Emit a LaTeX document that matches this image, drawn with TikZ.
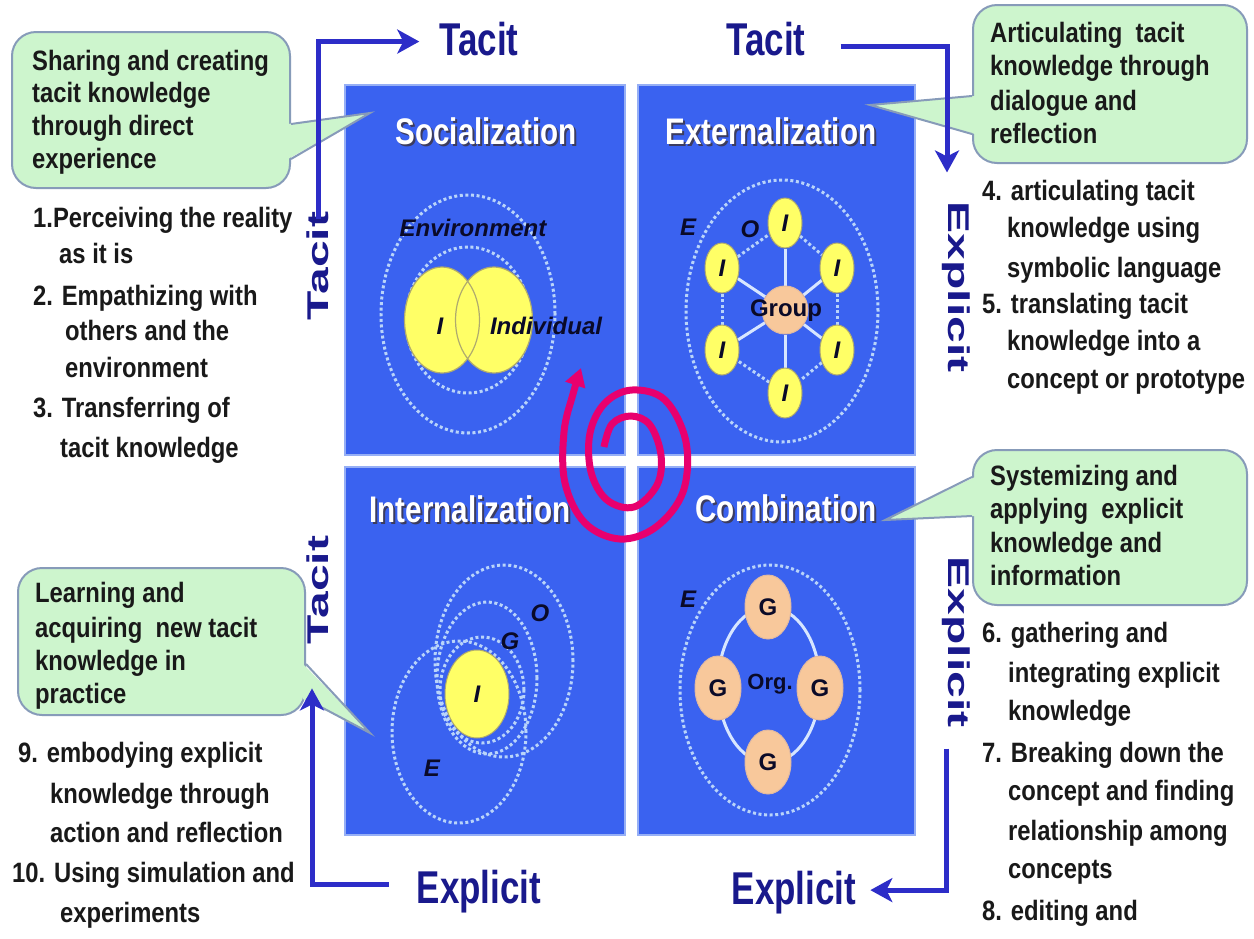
\documentclass[tikz,border=0pt]{standalone}
\usepackage{fontspec}
\setmainfont{Liberation Sans}
\newfontfamily\fbody{Liberation Sans}[FakeStretch=0.85]
\newfontfamily\ftitle{Liberation Sans}[FakeStretch=0.8]
\newfontfamily\fhlab{Liberation Sans}[FakeStretch=0.76]
\newfontfamily\fvlab{Liberation Sans}[FakeStretch=1.6]
\usetikzlibrary{arrows.meta,shapes.geometric,calc}
\definecolor{qblue}{RGB}{58,98,240}
\definecolor{qedge}{RGB}{150,175,245}
\definecolor{dashc}{RGB}{185,212,250}
\definecolor{spoke}{RGB}{215,230,255}
\definecolor{yel}{RGB}{255,255,102}
\definecolor{yeledge}{RGB}{175,170,110}
\definecolor{peach}{RGB}{248,200,155}
\definecolor{peachedge}{RGB}{225,185,160}
\definecolor{dtxt}{RGB}{10,10,40}
\definecolor{txt}{RGB}{25,25,25}
\definecolor{navy}{RGB}{25,25,140}
\definecolor{abl}{RGB}{45,45,200}
\definecolor{cfill}{RGB}{205,245,205}
\definecolor{cedge}{RGB}{135,155,185}
\definecolor{mag}{RGB}{232,0,110}
\definecolor{shad}{RGB}{60,60,95}
\pgfdeclarelayer{back}
\pgfdeclarelayer{mid}
\pgfsetlayers{back,mid,main}
\begin{document}
\begin{tikzpicture}[x=1pt,y=-1pt,
  quad/.style={rectangle, draw=qedge, line width=1.5pt, fill=qblue, inner sep=0pt},
  qtitle/.style={anchor=base, inner sep=0pt, text=white, font=\ftitle\bfseries\fontsize{37}{37}\selectfont},
  qshadow/.style={qtitle, text=shad},
  ln/.style={anchor=base west, inner sep=0pt, text=txt, font=\fbody\bfseries\fontsize{28}{28}\selectfont},
  dell/.style={ellipse, draw=dashc, line width=3pt, dash pattern=on 3pt off 2.6pt, inner sep=0pt},
  yelnode/.style={ellipse, fill=yel, draw=yeledge, line width=1pt, inner sep=0pt, text=dtxt, font=\bfseries\itshape\fontsize{24}{24}\selectfont},
  gnode/.style={ellipse, fill=peach, draw=peachedge, line width=1pt, inner sep=0pt, text=dtxt, font=\bfseries\fontsize{24}{24}\selectfont},
  lab/.style={inner sep=0pt, text=dtxt, font=\bfseries\itshape\fontsize{24}{24}\selectfont},
  ulab/.style={inner sep=0pt, text=dtxt, font=\bfseries\fontsize{24}{24}\selectfont},
  hlab/.style={anchor=base, inner sep=3pt, text=navy, font=\fhlab\bfseries\fontsize{46}{46}\selectfont},
  vlab/.style={inner sep=3pt, text=navy, font=\fvlab\bfseries\fontsize{30}{30}\selectfont},
  callbox/.style={rectangle, rounded corners=24pt, fill=cfill, draw=cedge, line width=2pt, inner sep=0pt},
  barrow/.style={draw=abl, line width=5pt, -{Stealth[length=22pt,width=24pt,inset=6pt]}},
  spokeline/.style={draw=spoke, line width=3pt},
  hexline/.style={draw=dashc, line width=3pt, dash pattern=on 3pt off 2.6pt}
]
\useasboundingbox (0,0) rectangle (1254,938);

% background and quadrants
\begin{pgfonlayer}{back}
\fill[white] (0,0) rectangle (1254,938);
\node[quad, minimum width=280pt, minimum height=370pt] (qS) at (485,270) {};
\node[quad, minimum width=277pt, minimum height=370pt] (qE) at (776.5,270) {};
\node[quad, minimum width=280pt, minimum height=368pt] (qI) at (485,651) {};
\node[quad, minimum width=277pt, minimum height=368pt] (qC) at (776.5,651) {};
\end{pgfonlayer}

% titles
\node[qshadow] (tSs) at (488,146) {Socialization};
\node[qtitle] (tS) at (486,144) {Socialization};
\node[qshadow] (tEs) at (773,146) {Externalization};
\node[qtitle] (tE) at (771,144) {Externalization};
\node[qshadow] (tIs) at (472,524) {Internalization};
\node[qtitle] (tI) at (470,522) {Internalization};
\node[qshadow] (tCs) at (788,523) {Combination};
\node[qtitle] (tC) at (786,521) {Combination};

% Socialization diagram
\node[dell, minimum width=174pt, minimum height=238pt] (sOut) at (468,314) {};
\node[dell, minimum width=124pt, minimum height=146pt] (sIn) at (468,320) {};
\node[ellipse, fill=yel, inner sep=0pt, minimum width=75pt, minimum height=106pt] (sL) at (442,320) {};
\node[ellipse, fill=yel, inner sep=0pt, minimum width=77pt, minimum height=106pt] (sR) at (494,320) {};
\node[ellipse, draw=yeledge, line width=1.2pt, inner sep=0pt, minimum width=75pt, minimum height=106pt] (sLo) at (442,320) {};
\node[ellipse, draw=yeledge, line width=1.2pt, inner sep=0pt, minimum width=77pt, minimum height=106pt] (sRo) at (494,320) {};
\node[lab] (sI) at (440,326) {I};
\node[lab] (sInd) at (546,326) {Individual};
\node[lab] (sEnv) at (473,228) {Environment};

% Externalization diagram
\node[dell, minimum width=192pt, minimum height=262pt] (eOut) at (782,311) {};
\node[ellipse, fill=peach, draw=peachedge, line width=1pt, inner sep=0pt, minimum width=46pt, minimum height=48pt] (eG) at (785,310) {};
\node[yelnode, minimum width=34pt, minimum height=50pt] (e1) at (785,223) {I};
\node[yelnode, minimum width=34pt, minimum height=50pt] (e2) at (837,268) {I};
\node[yelnode, minimum width=34pt, minimum height=50pt] (e3) at (837,350) {I};
\node[yelnode, minimum width=34pt, minimum height=50pt] (e4) at (785,393) {I};
\node[yelnode, minimum width=34pt, minimum height=50pt] (e5) at (722,350) {I};
\node[yelnode, minimum width=34pt, minimum height=50pt] (e6) at (722,268) {I};
\node[ulab] (eGl) at (786,311) {Group};
\node[lab] (eE) at (688,227) {E};
\node[lab] (eO) at (750,229) {O};
\begin{pgfonlayer}{mid}
\foreach \k in {1,...,6} {\draw[spokeline] (eG) -- (e\k);}
\draw[hexline] (e1) -- (e2);
\draw[hexline] (e2) -- (e3);
\draw[hexline] (e3) -- (e4);
\draw[hexline] (e4) -- (e5);
\draw[hexline] (e5) -- (e6);
\draw[hexline] (e6) -- (e1);
\end{pgfonlayer}

% Internalization diagram
\node[dell, minimum width=138pt, minimum height=192pt] (iO) at (504,661) {};
\node[dell, minimum width=100pt, minimum height=152pt] (iG) at (487,678) {};
\node[dell, minimum width=84pt, minimum height=106pt] (iR) at (482,690) {};
\node[dell, minimum width=134pt, minimum height=182pt] (iE) at (459,732) {};
\node[yelnode, minimum width=64pt, minimum height=88pt] (iI) at (477,694) {I};
\node[lab] (iGl) at (510,641) {G};
\node[lab] (iOl) at (540,613) {O};
\node[lab] (iEl) at (432,768) {E};

% Combination diagram
\node[dell, minimum width=180pt, minimum height=250pt] (cOut) at (770,690) {};
\node[ellipse, draw=spoke, line width=3pt, inner sep=0pt, minimum width=102pt, minimum height=156pt] (cRing) at (769,685) {};
\node[gnode, minimum width=46pt, minimum height=64pt] (g1) at (768,607) {G};
\node[gnode, minimum width=46pt, minimum height=64pt] (g2) at (718,688) {G};
\node[gnode, minimum width=46pt, minimum height=64pt] (g3) at (820,688) {G};
\node[gnode, minimum width=46pt, minimum height=64pt] (g4) at (768,762) {G};
\node[ulab, font=\bfseries\fontsize{22}{22}\selectfont] (cOrg) at (770,684) {Org.};
\node[lab] (cE) at (688,599) {E};

% callouts
\node[callbox, minimum width=278pt, minimum height=156pt] (c1) at (151,110) {};
\coordinate (c1t) at (370,113);
\fill[cfill] ($(c1.north east)+(-3,93)$) -- (c1t) -- ($(c1.north east)+(-3,128)$) -- cycle;
\draw[cedge, line width=2pt] ($(c1.north east)+(0,93)$) -- (c1t) -- ($(c1.north east)+(0,128)$);

\node[callbox, minimum width=274pt, minimum height=158pt] (c2) at (1110,84) {};
\coordinate (c2t) at (870,105);
\fill[cfill] ($(c2.north west)+(3,92)$) -- (c2t) -- ($(c2.north west)+(3,130)$) -- cycle;
\draw[cedge, line width=2pt] ($(c2.north west)+(0,92)$) -- (c2t) -- ($(c2.north west)+(0,130)$);

\node[callbox, minimum width=274pt, minimum height=155pt] (c3) at (1110,527.5) {};
\coordinate (c3t) at (885,520);
\fill[cfill] ($(c3.north west)+(3,28)$) -- (c3t) -- ($(c3.north west)+(3,67)$) -- cycle;
\draw[cedge, line width=2pt] ($(c3.north west)+(0,28)$) -- (c3t) -- ($(c3.north west)+(0,67)$);

\node[callbox, minimum width=287pt, minimum height=147pt] (c4) at (161.5,641.5) {};
\coordinate (c4t) at (370,733);
\fill[cfill] ($(c4.north east)+(-3,97)$) -- (c4t) -- ($(c4.north east)+(-3,132)$) -- cycle;
\draw[cedge, line width=2pt] ($(c4.north east)+(0,97)$) -- (c4t) -- ($(c4.north east)+(0,132)$);

% callout texts
\node[ln] (c1a) at (32,70) {Sharing and creating};
\node[ln] (c1b) at (32,102) {tacit knowledge};
\node[ln] (c1c) at (32,135) {through direct};
\node[ln] (c1d) at (32,168) {experience};
\node[ln] (c2a) at (990,42) {Articulating\ \ tacit};
\node[ln] (c2b) at (990,75) {knowledge through};
\node[ln] (c2c) at (990,110) {dialogue and};
\node[ln] (c2d) at (990,143) {reflection};
\node[ln] (c3a) at (990,485) {Systemizing and};
\node[ln] (c3b) at (990,518) {applying\ \ explicit};
\node[ln] (c3c) at (990,552) {knowledge and};
\node[ln] (c3d) at (990,585) {information};
\node[ln] (c4a) at (35,602) {Learning and};
\node[ln] (c4b) at (35,637) {acquiring\ \ new tacit};
\node[ln] (c4c) at (35,670) {knowledge in};
\node[ln] (c4d) at (35,703) {practice};

% lists
\node[ln] (l1a) at (33,227) {1.Perceiving the reality};
\node[ln] (l1b) at (59,263) {as it is};
\node[ln] (l2a) at (33,305) {2. Empathizing with};
\node[ln] (l2b) at (65,340) {others and the};
\node[ln] (l2c) at (65,377) {environment};
\node[ln] (l3a) at (33,417) {3. Transferring of};
\node[ln] (l3b) at (60,457) {tacit knowledge};

\node[ln] (l4a) at (982,200) {4. articulating tacit};
\node[ln] (l4b) at (1007,237) {knowledge using};
\node[ln] (l4c) at (1007,277) {symbolic language};
\node[ln] (l5a) at (982,313) {5. translating tacit};
\node[ln] (l5b) at (1007,350) {knowledge into a};
\node[ln] (l5c) at (1007,388) {concept or prototype};

\node[ln] (l6a) at (982,642) {6. gathering and};
\node[ln] (l6b) at (1008,682) {integrating explicit};
\node[ln] (l6c) at (1008,720) {knowledge};
\node[ln] (l7a) at (982,762) {7. Breaking down the};
\node[ln] (l7b) at (1008,800) {concept and finding};
\node[ln] (l7c) at (1008,840) {relationship among};
\node[ln] (l7d) at (1008,878) {concepts};
\node[ln] (l8a) at (982,920) {8. editing and};

\node[ln] (l9a) at (18,762) {9. embodying explicit};
\node[ln] (l9b) at (50,803) {knowledge through};
\node[ln] (l9c) at (50,842) {action and reflection};
\node[ln] (l10a) at (12,882) {10. Using simulation and};
\node[ln] (l10b) at (60,922) {experiments};

% axis labels
\node[hlab] (tacitT1) at (479,55) {Tacit};
\node[hlab] (tacitT2) at (766,55) {Tacit};
\node[hlab] (explB1) at (479,903) {Explicit};
\node[hlab] (explB2) at (794,904) {Explicit};
\node[vlab, rotate=90] (tacitL1) at (318,266) {Tacit};
\node[vlab, rotate=90] (tacitL2) at (318,590) {Tacit};
\node[vlab, rotate=-90] (explR1) at (956,287) {Explicit};
\node[vlab, rotate=-90] (explR2) at (956,642) {Explicit};

% blue cycle arrows
\draw[barrow, shorten <=-10pt, shorten >=17pt] (tacitL1.east) |- ([yshift=-3pt]tacitT1.west);
\draw[barrow, shorten <=32pt, shorten >=26pt] ([yshift=-8pt]tacitT2.east) -| ([xshift=-9pt]explR1.west);
\draw[barrow, shorten <=18pt, shorten >=11pt] ([xshift=-10pt]explR2.east) |- ([yshift=2pt]explB2.east);
\draw[barrow, shorten <=25pt, shorten >=41pt] ([yshift=7pt]explB1.west) -| ([xshift=-6pt]tacitL2.west);

% spiral
\draw[mag, line width=7pt, line cap=butt, -{Triangle[length=18pt,width=20pt]}]
  plot[smooth, tension=0.6] coordinates {(604,447) (612,424) (631,416) (650,425) (661,455) (657,485) (634,507) (607,500) (591,472) (590,433) (605,403) (632,390) (665,400) (686,442) (683,492) (656,527) (620,539) (585,523) (565,483) (564,432) (573,394) (581,368)};
\end{tikzpicture}
\end{document}
